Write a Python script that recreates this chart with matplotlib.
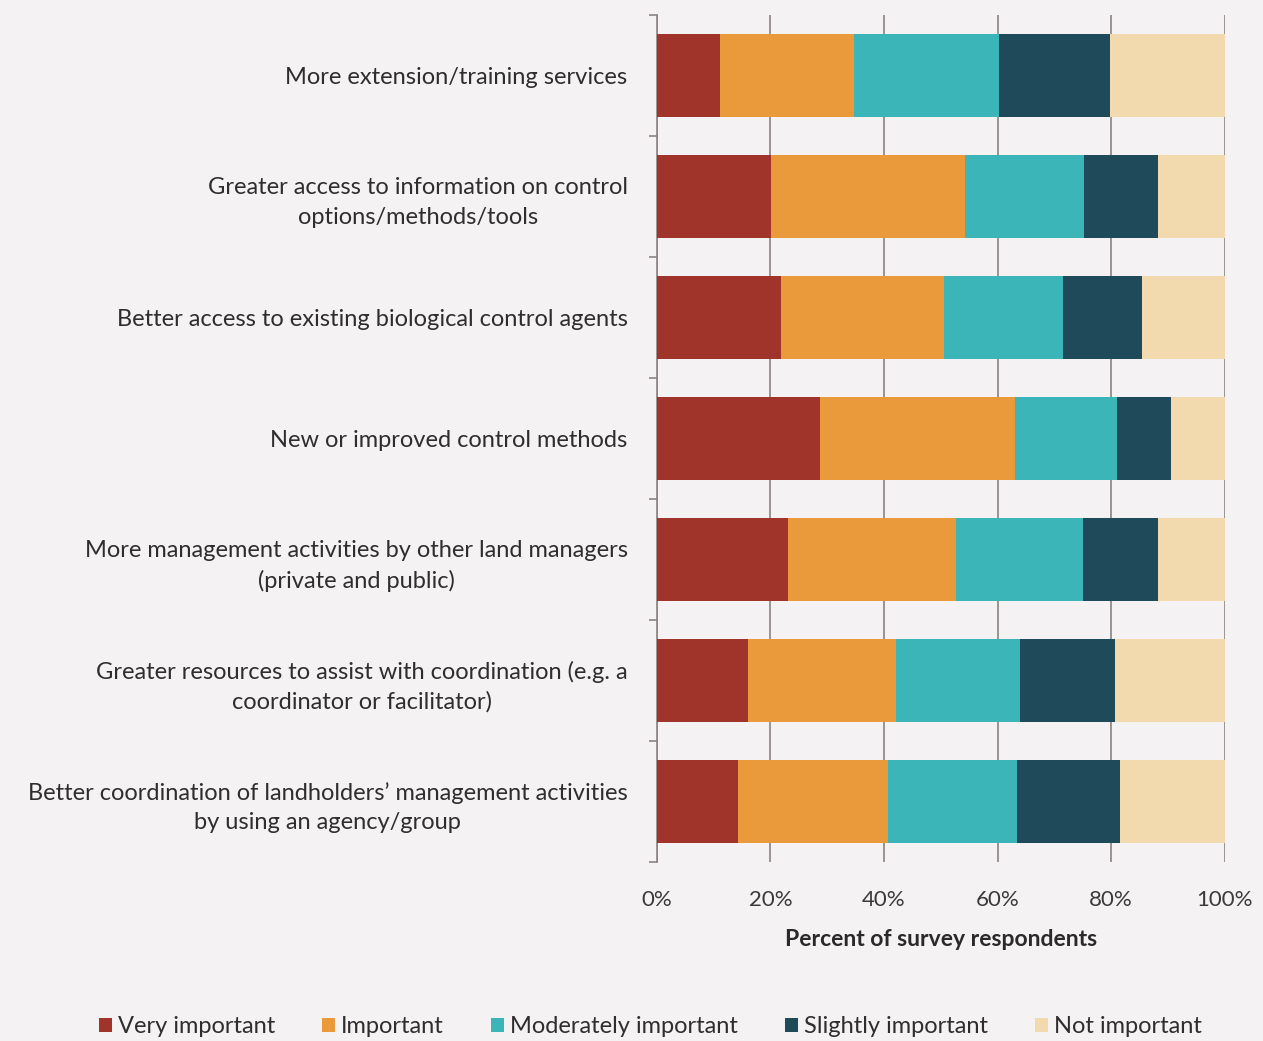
import numpy as np
import matplotlib.pyplot as plt
from matplotlib.patches import Patch

plt.rcParams['font.family'] = ['Lato', 'DejaVu Sans']

categories = [
    "More extension/training services",
    "Greater access to information on control\noptions/methods/tools",
    "Better access to existing biological control agents",
    "New or improved control methods",
    "More management activities by other land managers\n(private and public)",
    "Greater resources to assist with coordination (e.g. a\ncoordinator or facilitator)",
    "Better coordination of landholders\u2019 management activities\nby using an agency/group",
]
series_names = ["Very important", "Important", "Moderately important",
                "Slightly important", "Not important"]
very_important = [11.1, 20.2, 21.8, 28.7, 23.1, 16.0, 14.3]
important = [23.6, 34.0, 28.7, 34.3, 29.5, 26.1, 26.5]
moderately = [25.5, 21.0, 21.0, 18.0, 22.4, 21.8, 22.6]
slightly = [19.6, 13.0, 13.9, 9.5, 13.2, 16.7, 18.1]
not_important = [20.2, 11.8, 14.6, 9.5, 11.8, 19.4, 18.5]

colors = ["#a0342b", "#ea9a3b", "#3bb5b8", "#1f4a59", "#f3d9ae"]
bg = "#f4f2f2"

fig = plt.figure(figsize=(12.63, 10.41), dpi=100, facecolor=bg)
ax = fig.add_axes([0.520, 0.172, 0.4497, 0.8136], facecolor=bg)

y = np.arange(len(categories))
left = np.zeros(len(categories))
for name, vals, c in zip(series_names,
                         [very_important, important, moderately, slightly, not_important],
                         colors):
    ax.barh(y, vals, left=left, height=0.68, color=c, label=name, zorder=3)
    left += np.array(vals)

ax.set_xlim(0, 100)
ax.set_ylim(len(categories) - 0.5, -0.5)
ax.set_xticks(np.arange(0, 101, 20))
ax.set_xticklabels([f"{v}%" for v in range(0, 101, 20)], fontsize=16, color="#3a3a3a")
ax.tick_params(axis='x', length=0, pad=20)
ax.xaxis.grid(True, color="#8c8282", linewidth=1.2, zorder=0)

ax.set_yticks(y)
ax.set_yticklabels(categories, fontsize=17, color="#2e2e2e", ha='right',
                   multialignment='center', linespacing=1.5)
ax.tick_params(axis='y', which='major', length=0, pad=21)
ax.set_yticks(np.arange(-0.5, len(categories)), minor=True)
ax.tick_params(axis='y', which='minor', length=6, color="#8c8282", width=1.2)

for s in ['top', 'right', 'bottom']:
    ax.spines[s].set_visible(False)
ax.spines['left'].set_color("#8c8282")
ax.spines['left'].set_linewidth(1.2)

ax.set_xlabel("Percent of survey respondents", fontsize=16.5, fontweight='bold',
              color="#2a2a2a", labelpad=14)

handles = [Patch(facecolor=c, label=n) for n, c in zip(series_names, colors)]
fig.legend(handles=handles, loc='center', bbox_to_anchor=(0.515, 0.0135), ncol=5,
           frameon=False, fontsize=17, handlelength=0.55, handleheight=0.55,
           handletextpad=0.25, columnspacing=2.0, labelcolor="#2e2e2e")

fig.savefig("out.png", dpi=100, facecolor=bg)
